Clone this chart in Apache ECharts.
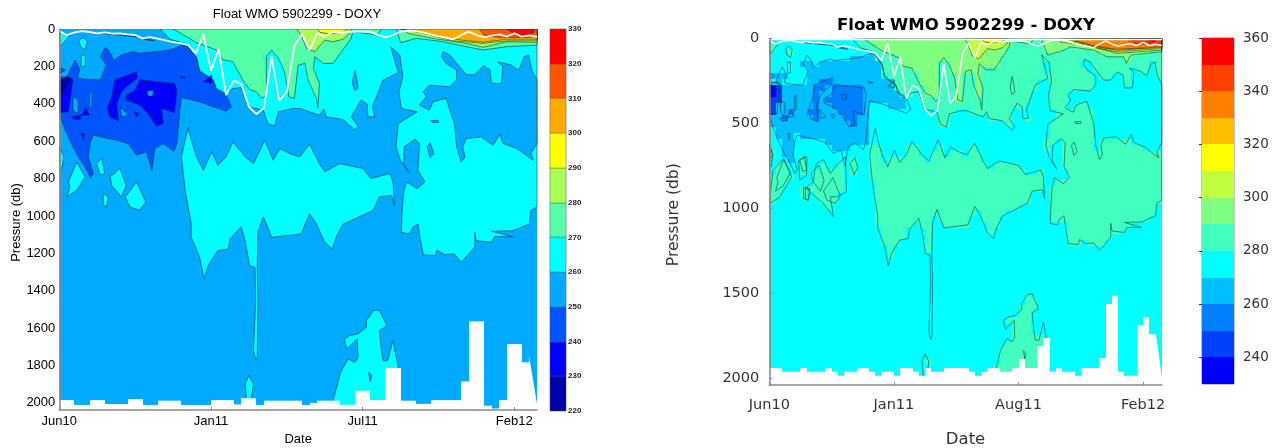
<!DOCTYPE html>
<html><head><meta charset="utf-8">
<style>html,body{margin:0;padding:0;background:#fff}#c{width:1283px;height:448px}</style>
<script src="https://cdn.jsdelivr.net/npm/echarts@6/dist/echarts.min.js"></script>
</head><body><div id="c"></div>
<script>
// x = profile number, y = pressure (db)
const xTickValues=[0,20,40,60];
const leftXLabels={0:'Jun10',20:'Jan11',40:'Jul11',60:'Feb12'};
const rightXLabels={0:'Jun10',20:'Jan11',40:'Aug11',60:'Feb12'};
const leftColors=['#0000aa','#0000ff','#0055ff','#00aaff','#00ffff','#55ffaa','#aaff55','#ffff00','#ffaa00','#ff5500','#ff0000'];
const rightColors=['#0000ff','#0040ff','#0080ff','#00bfff','#00ffff','#40ffbf','#80ff80','#bfff40','#ffff00','#ffbf00','#ff8000','#ff4000','#ff0000'];
const mixedLayer=[9,32,18,11,16,23,18,25,23,29,32,50,43,52,61,70,75,86,130,27,223,107,354,275,295,416,455,423,148,384,336,91,27,112,23,41,16,20,16,14,14,14,32,45,32,14,9,11,18,29,38,46,55,32,14,32,45,36,29,41,23,41,34,41];
const leftFloor=[1985,1985,2011,2011,1985,1985,2006,2006,2006,1979,1979,2011,2011,1988,1988,1988,2011,2011,2011,2011,1985,1985,1985,2008,1975,1975,2011,1988,1988,1988,1988,1988,2011,2000,1988,1988,1988,2010,2010,1935,1935,1985,1985,1813,1813,1988,1988,2005,2005,1985,1985,1985,1985,1885,1564,1564,2015,2030,1985,1685,1685,1783,1747];
const rightFloor=[1938,1938,1960,1960,1960,1938,1960,1960,1960,1938,1960,1983,1960,1960,1938,1938,1960,1983,1960,1960,1983,1938,1938,1960,1983,1938,1960,1960,1938,1938,1938,1938,1960,1983,1960,1938,1938,1960,1960,1938,1885,1938,1938,1811,1762,1960,1938,1960,1960,1983,1938,1938,1938,1881,1562,1513,1960,1983,1983,1685,1640,1738,1738];
const leftFloorEnd=2006, rightFloorEnd=2003;

const wholeField=[[0,0],[63,0],[63,2038],[0,2038]];
const upperAndRight=[[13.3,0],[14.6,55],[16.6,77],[18.1,148],[18.5,220],[20.3,273],[20.7,318],[22,345],[22.9,318],[24,313],[24.9,416],[26.9,434],[27.5,505],[28.4,520],[28.9,443],[30.8,425],[31.7,425],[34.3,461],[34.9,430],[35.2,470],[37.4,484],[39,541],[39.4,520],[38.5,470],[39.8,380],[40.6,402],[40.7,470],[41.6,470],[41.3,416],[42.7,273],[44.7,234],[43.7,95],[44.9,139],[45.3,252],[44.8,336],[45.1,425],[47.2,443],[44.7,505],[44.4,630],[45,705],[46.1,766],[45.4,720],[45.5,630],[46.9,589],[47.5,613],[47.3,755],[48.2,818],[47.2,854],[45.8,818],[45.4,872],[45.2,987],[45.1,1088],[46.2,1096],[46.6,1061],[47.3,1043],[47.6,1123],[48,1207],[49.6,1212],[49.8,1182],[50.8,1207],[52.1,1203],[53,1248],[54.8,1168],[54.8,1088],[55,1132],[57,1141],[57.4,1111],[59.8,1111],[57,1082],[59.8,1079],[60.7,1064],[62,1043],[62.2,970],[63,952],[63,0]];
const lowerLeft=[[16.1,684],[16.6,595],[17,527],[17.4,595],[18.1,684],[19,755],[20.1,657],[20.9,729],[22,684],[22.9,604],[24.5,684],[25.6,720],[27.1,595],[28.2,702],[29.1,639],[30.6,670],[31.7,684],[33,616],[34.3,720],[35,764],[37,720],[40,746],[41.1,800],[43.6,773],[44,818],[44.2,943],[43.8,889],[42.2,898],[41.4,970],[37.4,1045],[36.5,1114],[36,1177],[35,1141],[33.9,1043],[33,988],[32.4,1045],[31.9,1096],[28,1114],[27.3,1043],[26.9,1005],[26.2,1088],[26.1,1275],[26.2,1453],[26.1,1756],[25.9,1770],[25.6,1721],[25.9,1453],[25.8,1275],[25.1,1266],[24.5,1132],[24,1057],[22.5,1123],[22.3,1177],[20.9,1186],[19.6,1266],[19.1,1337],[18.5,1221],[17.4,1114],[17.4,1043],[16.6,863]];
const rightPatch=[[50.6,121],[51.5,139],[52.4,184],[53.7,245],[54.8,245],[55.9,196],[56.8,218],[57,291],[58.3,291],[58.5,202],[57.8,175],[59.6,193],[60.6,220],[61.3,148],[61.9,139],[62.3,220],[63,273],[63,612],[62.2,666],[62.5,702],[60.3,639],[58.5,612],[58.1,563],[57.2,622],[55.6,577],[53.7,586],[53.2,630],[53.5,684],[53,711],[52.4,630],[52.1,505],[51,371],[49.3,389],[48.8,434],[47.5,407],[48.4,362],[48,336],[48.8,300],[51.5,309],[52.4,273],[52.4,220],[51,184],[50.4,148]];
const isle1=[[48.5,630],[48.9,609],[49.4,666],[48.9,688]];
const isle2=[[38.7,273],[39,223],[39.3,282],[39.4,318],[39,330],[38.7,300]];
const isle3=[[49,490],[50,488],[50,500],[49.2,500]];
const deepPatch=[[36,2038],[36.1,1988],[37.1,1836],[38.1,1765],[39,1783],[39.4,1756],[39.3,1658],[37.9,1712],[37.6,1658],[38.3,1640],[39.4,1631],[40.5,1596],[40.5,1560],[41.4,1507],[42.2,1503],[43.2,1587],[42.2,1614],[42.5,1729],[42.7,1774],[43.3,1774],[44,1667],[44.7,1810],[45,1988],[45,2038]];
const deepHole=[[40.8,1836],[41.2,1854],[41,1885]];
const deepBlob=[[25,1854],[25.6,1899],[25.3,1990],[24.7,1990],[24.5,1899]];
const blobs260=[
 [[3.2,45],[3.7,68],[3.4,112],[2.8,95],[2.6,59]],
 [[2.9,139],[3.4,139],[3.4,202],[2.9,202]],
 [[0,9],[1.4,32],[0.5,77],[0,95]],
 [[1.2,818],[2.3,711],[3.4,791],[2.3,863],[1,898],[1.4,845]],
 [[4.9,720],[5.6,693],[6,773],[5.4,782]],
 [[6.7,791],[8,746],[8.8,836],[8.2,898],[6.9,836]],
 [[8.7,898],[10.2,818],[11.4,925],[10.6,970],[9.3,952]],
 [[5.8,880],[6.5,898],[6.2,952],[5.8,943]],
 [[0,630],[0.6,684],[0.3,755],[0,764]]
];
const extraR=[
 [[0,618],[0.5,680],[0,720]],
 [[0.6,776],[2.3,706],[3.6,814],[1.7,931],[0.1,971],[0,971]],
 [[4.7,716],[6,696],[6,804],[4.9,833]],
 [[7.6,735],[8.7,712],[9.8,794],[10.8,745],[12.2,696],[12.4,902],[10.8,931],[9.8,931],[10.3,1049],[8.7,971],[6.5,902],[6,873],[7.1,843],[7.3,774]],
 [[5.5,873],[6.5,882],[6.3,951],[5.5,941]],
 [[13,735],[13.7,700],[14.2,760],[13.6,800]]
];
const body240=[[0,252],[1,264],[1.5,211],[2.1,166],[2.7,216],[2.4,259],[3.2,268],[5.4,273],[6.2,193],[5.4,148],[6.1,98],[6.9,139],[7.1,170],[8.2,139],[9.7,121],[10.6,130],[12.8,121],[14.6,112],[15.9,91],[16.8,86],[18.1,157],[18.5,229],[20.3,273],[20.7,323],[22,354],[22.7,416],[22,439],[20.3,416],[18.5,389],[16.1,366],[15.9,434],[15.5,613],[15.1,654],[13.7,613],[12.6,639],[12.2,755],[11.5,657],[10.2,675],[9.1,613],[7.6,595],[5.8,580],[4.5,568],[4.1,604],[3.8,684],[4.5,773],[4.1,795],[3.4,738],[2.5,684],[1.6,613],[0.7,532],[0,452]];
const edge240=[[0,202],[0.8,220],[0,240]];
const strip240=[[5.4,23],[10.2,37],[11.5,59],[12.6,63],[11,45]];
const holes250=[
 [[1.8,363],[2.5,380],[2.5,443],[2.1,452],[1.8,425]],
 [[4,336],[4.3,336],[4.3,416],[4,425]],
 [[8,416],[9.1,461],[8.2,470]]
];
const core230a=[[0,273],[1,252],[1.8,270],[1.6,336],[1.2,443],[0.1,448],[0,448]];
const core220=[[0,291],[0.7,259],[1.6,264],[0.7,327],[0.1,371],[0,371]];
const lobe230b=[[7.3,273],[10.2,229],[10.3,264],[9.1,300],[8.2,336],[7.6,398],[7.8,491],[6.7,473],[6.3,425],[6.9,363]];
const lobe230c=[[10.6,270],[12.8,282],[15.2,291],[15.5,327],[15.2,448],[13.5,425],[13.7,505],[12.8,520],[11.7,452],[10.6,407],[8.8,380],[8.8,354],[10,327]];
const hole230c=[[11.6,330],[12.4,330],[12.3,359],[11.7,359]];
const bits230=[
 [[1.6,470],[2.9,461],[2.7,484],[2.1,484]],
 [[2.9,461],[3.5,420],[4,461]],
 [[9.9,443],[10.5,452],[10.2,473]],
 [[15.9,252],[16.6,259],[16.1,264]],
 [[19,282],[20.1,246],[20.1,291]],
 [[2.9,559],[3.3,559],[3.2,595]]
];
const green270=[[15,0],[16.6,37],[18.1,73],[19,86],[20.7,112],[21.5,163],[22.9,175],[24.2,273],[25.1,323],[26,336],[26.7,371],[27.3,354],[27.3,148],[28,112],[28.9,157],[29.7,229],[30.3,363],[31,371],[31.5,193],[32.4,184],[32.8,273],[33.9,370],[34.1,420],[34.3,290],[33.5,210],[33.7,148],[34.8,184],[36.1,184],[38.5,50],[38.7,14],[41.9,32],[42.5,0]];
const crest280=[[31.3,0],[31.9,32],[32.6,104],[33.7,121],[35,59],[36.1,68],[37.4,55],[38.3,23],[38.5,0]];
const crest290=[[34,0],[34.4,18],[35.5,25],[37,23],[37.7,10],[38,0]];
const topL270=[[44.5,0],[45,73],[47.1,50],[50.6,68],[53.7,95],[55.9,112],[59,95],[63,86],[63,0]];
const topL280=[[45.3,0],[46,23],[49.3,50],[53.7,77],[55.9,98],[59,68],[63,71],[63,0]];
const topL290=[[45,0],[48,23],[52,63],[55.9,77],[59,63],[63,63],[63,0]];
const topL300=[[45.2,0],[48,18],[52,55],[55.9,71],[59,55],[63,55],[63,0]];
const topL310=[[55.4,0],[56,32],[58,45],[59.9,45],[61.6,45],[63,41],[63,0]];
const topL320=[[59,0],[59.9,23],[61.2,41],[62.5,23],[62.7,0]];
const topR290=[[43.8,10],[44.7,98],[47.3,69],[48.3,49],[52.1,69],[54.2,108],[56.9,108],[57.3,147],[58,98],[63,78],[63,0],[43.8,0]];
const topR300=[[46.7,0],[46.7,20],[52.1,49],[55.8,88],[62.8,69],[63,69],[63,0]];
const topR310=[[48.9,0],[48.9,20],[52,53],[55.8,78],[63,59],[63,0]];
const topR320=[[49.4,0],[49.4,15],[52.1,46],[55.8,70],[63,52],[63,0]];
const topR330=[[47.3,0],[52.1,44],[55.8,64],[62.8,49],[63,49],[63,0]];
const topR340=[[57.5,0],[58,29],[62.8,39],[63,39],[63,0]];
const topR350=[[60.4,0],[61.2,29],[62,0]];
// [level in the left chart, level in the right chart, shape]
const layers=[
 [250,270,wholeField],[260,280,upperAndRight],[260,280,lowerLeft],[250,270,rightPatch],
 [250,270,isle1],[250,270,isle2],[250,270,isle3],[260,280,deepPatch],[250,270,deepHole],[260,280,deepBlob],
 ...extraR.map(s=>[null,280,s]),
 [240,260,body240],[240,260,edge240],[240,260,strip240],
 ...blobs260.map(s=>[260,280,s]),...holes250.map(s=>[250,270,s]),
 [230,240,core230a],[220,230,core220],[230,250,lobe230b],[230,250,lobe230c],[250,270,hole230c],
 ...bits230.map(s=>[230,250,s]),
 [270,290,green270],[280,300,crest280],[290,310,crest290],
 [270,null,topL270],[280,null,topL280],[290,null,topL290],[300,null,topL300],[310,null,topL310],[320,null,topL320],
 [null,290,topR290],[null,300,topR300],[null,310,topR310],[null,320,topR320],[null,330,topR330],[null,340,topR340],[null,350,topR350]
];
const leftLayers=layers.filter(l=>l[0]!==null);
const rightLayers=layers.filter(l=>l[1]!==null);
const P_MAX=2038, K_MAX=63;

function inside(p,x,y){let c=false;for(let i=0,j=p.length-1;i<p.length;j=i++){const a=p[i],b=p[j];
 if((a[1]>y)!==(b[1]>y)&&x<(b[0]-a[0])*(y-a[1])/(b[1]-a[1])+a[0])c=!c;}return c;}
// the right chart is a cell raster of the same fields
const rowEdges=[10];while(rowEdges[rowEdges.length-1]<100)rowEdges.push(rowEdges[rowEdges.length-1]+10);
while(rowEdges[rowEdges.length-1]<P_MAX)rowEdges.push(rowEdges[rowEdges.length-1]+35);
const rightCells=[];
for(let k=0;k<K_MAX;k++)for(let r=0;r<rowEdges.length-1;r++){
 const limit=k===K_MAX-1?rightFloorEnd:rightFloor[k];
 if(rowEdges[r]>=limit)continue;
 const mid=(rowEdges[r]+rowEdges[r+1])/2;let lv=270;
 for(let i=rightLayers.length-1;i>=0;i--){if(inside(rightLayers[i][2],k+.5,mid)){lv=rightLayers[i][1];break;}}
 rightCells.push([k,rowEdges[r],Math.min(rowEdges[r+1],limit),lv]);
}
const colorL=v=>leftColors[(v-220)/10], colorR=v=>rightColors[(v-230)/10];
const polyPts=(pts,api)=>pts.map(p=>api.coord(p));
function rectOf(api,x0,y0,x1,y1){const a=api.coord([x0,y0]),b=api.coord([x1,y1]);
 const l=Math.round(Math.min(a[0],b[0])),r=Math.round(Math.max(a[0],b[0])),t=Math.round(Math.min(a[1],b[1])),u=Math.round(Math.max(a[1],b[1]));
 return {x:l,y:t,width:r-l,height:u-t};}
const LINE='rgba(0,50,70,0.85)';

function maskSeries(ax,floor,floorEnd,extra){
 const items=floor.map((f,k)=>[k,k+1,f,k===floor.length-1?floorEnd:f,P_MAX]).concat(extra);
 return {type:'custom',xAxisIndex:ax,yAxisIndex:ax,clip:true,z:4,silent:true,data:items,
 renderItem:(p,api)=>{const x0=Math.round(api.coord([api.value(0),0])[0]),x1=Math.round(api.coord([api.value(1),0])[0]);
  const yc=v=>api.coord([0,v])[1];
  return {type:'polygon',shape:{points:[[x0,yc(api.value(2))],[x1,yc(api.value(3))],[x1,yc(api.value(4))],[x0,yc(api.value(4))]]},style:{fill:'#fff'}};}};}

const series=[
 {type:'custom',xAxisIndex:0,yAxisIndex:0,clip:true,z:2,silent:true,data:leftLayers.map((l,i)=>[i,l[0]]),
  renderItem:(p,api)=>{const l=leftLayers[api.value(0)];const first=api.value(0)===0;
   return {type:'polygon',shape:{points:polyPts(l[2],api)},style:{fill:colorL(api.value(1)),stroke:first?null:LINE,lineWidth:first?0:.7}};}},
 maskSeries(0,leftFloor,leftFloorEnd,[]),
 {type:'line',xAxisIndex:0,yAxisIndex:0,z:6,silent:true,showSymbol:false,data:mixedLayer.map((v,k)=>[k,v]),lineStyle:{color:'#fff',width:1.8},clip:true},
 {type:'custom',xAxisIndex:1,yAxisIndex:1,clip:true,z:2,silent:true,data:rightCells,
  renderItem:(p,api)=>({type:'rect',shape:rectOf(api,api.value(0),api.value(1),api.value(0)+1,api.value(2)),style:{fill:colorR(api.value(3))}})},
 {type:'custom',xAxisIndex:1,yAxisIndex:1,clip:true,z:3,silent:true,data:rightLayers.slice(1).map((l,i)=>[i,l[1]]),
  renderItem:(p,api)=>{const l=rightLayers[api.value(0)+1];
   return {type:'polygon',shape:{points:polyPts(l[2],api)},style:{fill:'none',stroke:'rgba(0,40,50,0.75)',lineWidth:.7}};}},
 maskSeries(1,rightFloor,rightFloorEnd,[[0,K_MAX,0,0,10]]),
 {type:'line',xAxisIndex:1,yAxisIndex:1,z:6,silent:true,showSymbol:false,data:mixedLayer.map((v,k)=>[k,v]),lineStyle:{color:'#fff',width:1.5},clip:true},
 {type:'custom',xAxisIndex:2,yAxisIndex:2,clip:true,silent:true,data:leftColors.map((c,i)=>[220+i*10]),
  renderItem:(p,api)=>({type:'rect',shape:rectOf(api,0,api.value(0),1,api.value(0)+10),style:{fill:colorL(api.value(0)),stroke:'#555',lineWidth:.4}})},
 {type:'custom',xAxisIndex:3,yAxisIndex:3,clip:true,silent:true,data:rightColors.map((c,i)=>[230+i*10]),
  renderItem:(p,api)=>({type:'rect',shape:rectOf(api,0,api.value(0),1,api.value(0)+10),style:{fill:colorR(api.value(0))}})}
];
const GL={color:'#000',fontFamily:'Liberation Sans',fontSize:13};
const GR={color:'#333',fontFamily:'DejaVu Sans',fontSize:14.5};
const axL={onZero:false,lineStyle:{color:'#888',width:1.5}};
const plain=v=>String(v);
const option={animation:false,backgroundColor:'#fff',
 title:[
  {text:'Float WMO 5902299 - DOXY',left:292,top:3,textAlign:'center',textStyle:{fontFamily:'Liberation Sans',fontWeight:'normal',fontSize:13,color:'#000'}},
  {text:'Float WMO 5902299 - DOXY',left:961,top:12,textAlign:'center',textStyle:{fontFamily:'DejaVu Sans',fontWeight:'bold',fontSize:16.5,color:'#000'}}
 ],
 grid:[
  {left:59.3,top:29,width:477.7,height:381,outerBoundsMode:'none'},
  {left:769.3,top:38.5,width:392.5,height:346.5,outerBoundsMode:'none'},
  {left:550,top:29,width:16,height:382,show:true,borderColor:'#999',borderWidth:1,outerBoundsMode:'none'},
  {left:1202,top:38,width:32,height:346,show:true,borderColor:'#888',borderWidth:1,outerBoundsMode:'none'}
 ],
 xAxis:[
  {type:'value',gridIndex:0,z:8,min:0,max:K_MAX,splitLine:{show:false},axisLine:axL,axisTick:{inside:true,length:3,customValues:xTickValues,lineStyle:{color:'#888'}},
   axisLabel:{...GL,customValues:xTickValues,margin:5,formatter:v=>leftXLabels[v]||''},name:'Date',nameLocation:'middle',nameGap:14,nameTextStyle:GL},
  {type:'value',gridIndex:1,z:8,min:0,max:K_MAX,splitLine:{show:false},axisLine:axL,axisTick:{inside:true,length:3,customValues:xTickValues,lineStyle:{color:'#888'}},
   axisLabel:{...GR,customValues:xTickValues,margin:13,formatter:v=>rightXLabels[v]||''},name:'Date',nameLocation:'middle',nameGap:46,nameTextStyle:{...GR,fontSize:16.5}},
  {type:'value',gridIndex:2,min:0,max:1,show:false},
  {type:'value',gridIndex:3,min:0,max:1,show:false}
 ],
 yAxis:[
  {type:'value',gridIndex:0,z:8,inverse:true,min:0,max:P_MAX,interval:200,splitLine:{show:false},axisLine:{show:true,...axL},axisTick:{show:false},
   axisLabel:{...GL,margin:4,showMaxLabel:false,formatter:plain},name:'Pressure (db)',nameLocation:'middle',nameGap:33,nameTextStyle:{...GL,padding:[0,6,0,0]}},
  {type:'value',gridIndex:1,z:8,inverse:true,min:0,max:P_MAX,interval:500,splitLine:{show:false},axisLine:{show:true,...axL},axisTick:{show:true,inside:true,length:3,lineStyle:{color:'#888'}},
   axisLabel:{...GR,margin:10,showMaxLabel:false,formatter:plain},name:'Pressure (db)',nameLocation:'middle',nameGap:87,nameTextStyle:{...GR,fontSize:15.5,padding:[0,6,0,0]}},
  {type:'value',gridIndex:2,position:'right',min:220,max:330,interval:10,splitLine:{show:false},axisLine:{show:false},axisTick:{show:false},
   axisLabel:{color:'#222',fontFamily:'Liberation Sans',fontSize:8,fontWeight:'bold',margin:2}},
  {type:'value',gridIndex:3,z:8,position:'right',min:230,max:360,splitLine:{show:false},axisLine:{show:false},
   axisTick:{show:true,inside:true,length:3,customValues:[240,260,280,300,320,340,360],lineStyle:{color:'#333'}},
   axisLabel:{...GR,fontSize:13.5,customValues:[240,260,280,300,320,340,360],margin:9}}
 ],
 series};
echarts.init(document.getElementById('c'),null,{renderer:'canvas'}).setOption(option);
</script></body></html>
